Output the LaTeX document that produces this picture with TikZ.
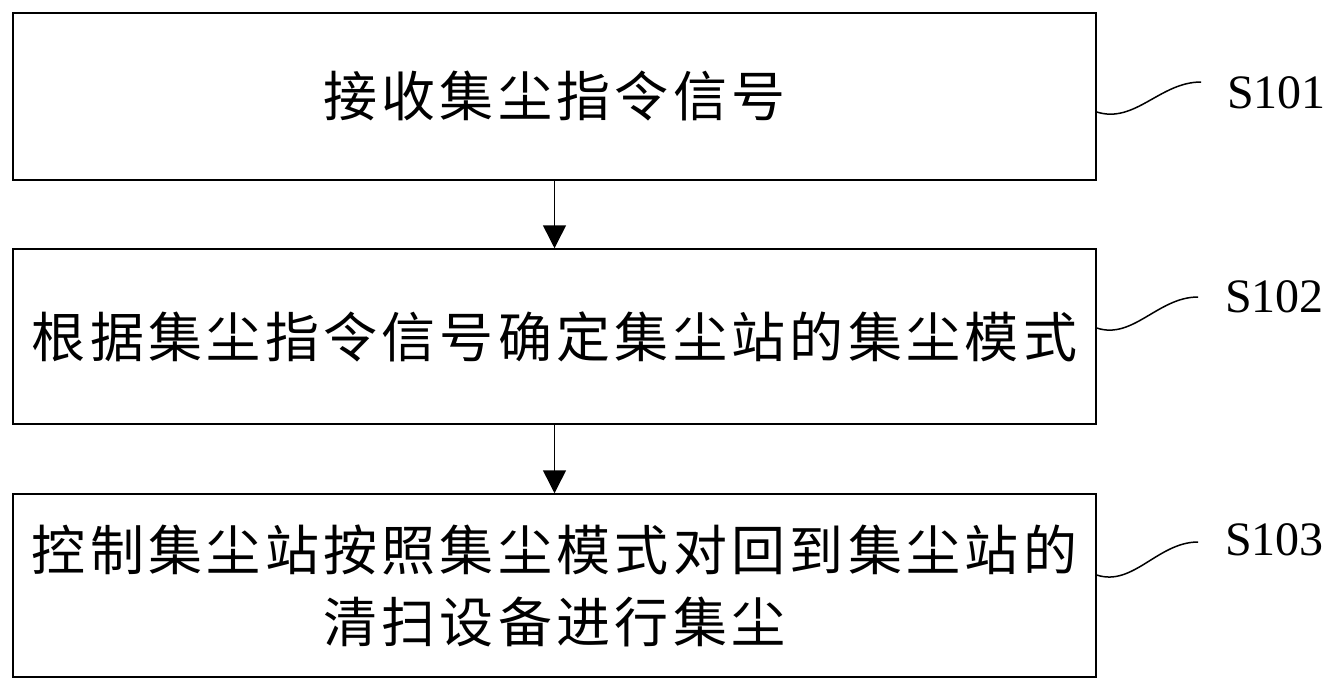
\documentclass[tikz,border=0pt]{standalone}
\usepackage{fontspec}
\setmainfont{Liberation Serif}
\newfontfamily\cjk[LetterSpace=8]{Noto Sans CJK SC}
\usetikzlibrary{arrows.meta}
\begin{document}
\begin{tikzpicture}[x=1pt,y=-1pt,
  stepbox/.style={draw=black,line width=1.5pt,minimum width=1083pt,inner sep=0pt,
    font=\cjk\fontsize{54}{72}\selectfont,align=center},
  flow/.style={line width=1.5pt,-{Triangle[width=23pt,length=23pt]}},
  lead/.style={line width=1.5pt},
  steplabel/.style={anchor=base west,inner sep=0pt,font=\fontsize{48}{48}\selectfont}]
\useasboundingbox (0,0) rectangle (1337,691);
\node[stepbox,minimum height=167pt] (b1) at (554.5,96.5) {接收集尘指令信号};
\node[stepbox,minimum height=175pt] (b2) at (554.5,336.5) {根据集尘指令信号确定集尘站的集尘模式};
\node[stepbox,minimum height=183pt] (b3) at (554.5,585.5) {控制集尘站按照集尘模式对回到集尘站的\\清扫设备进行集尘};
\draw[flow] (b1.south) -- (b2.north);
\draw[flow] (b2.south) -- (b3.north);
\node[steplabel] (l1) at (1227,108) {S101};
\node[steplabel] (l2) at (1225,312) {S102};
\node[steplabel] (l3) at (1225,555) {S103};
\coordinate (s1) at (b1.east |- 0,112);
\coordinate (e1) at (1201,82);
\coordinate (s2) at (b2.east |- 0,328);
\coordinate (e2) at (1198,297);
\coordinate (s3) at (b3.east |- 0,575);
\coordinate (e3) at (1198,542);
\draw[lead] (s1) .. controls (1135,124) and (1160,82) .. (e1);
\draw[lead] (s2) .. controls (1133,340) and (1158,297) .. (e2);
\draw[lead] (s3) .. controls (1133,587) and (1158,542) .. (e3);
\end{tikzpicture}
\end{document}
